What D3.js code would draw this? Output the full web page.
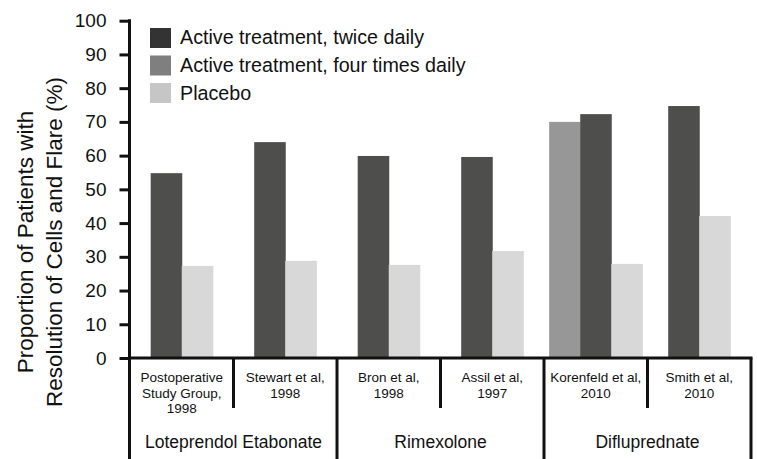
<!DOCTYPE html>
<html>
<head>
<meta charset="utf-8">
<script src="https://cdn.jsdelivr.net/npm/d3@7/dist/d3.min.js"></script>
<style>
  html, body { margin: 0; padding: 0; background: #fff; }
  svg { display: block; font-family: "Liberation Sans", Arial, Helvetica, sans-serif; }
</style>
</head>
<body>
<svg id="chart" width="757" height="459"></svg>
<script>
// ---- data ----
const categories = ["Postoperative Study Group, 1998", "Stewart et al, 1998", "Bron et al, 1998", "Assil et al, 1997", "Korenfeld et al, 2010", "Smith et al, 2010"];
const categoryLines = [["Postoperative", "Study Group,", "1998"], ["Stewart et al,", "1998"], ["Bron et al,", "1998"], ["Assil et al,", "1997"], ["Korenfeld et al,", "2010"], ["Smith et al,", "2010"]];
const groups = ["Loteprendol Etabonate", "Rimexolone", "Difluprednate"];
const categoryGroup = [0, 0, 1, 1, 2, 2];
const seriesNames = ["Active treatment, twice daily", "Active treatment, four times daily", "Placebo"];
const fourTimesDaily = [null, null, null, null, 70.0, null];
const twiceDaily = [54.8, 64.0, 59.9, 59.6, 72.3, 74.7];
const placebo = [27.3, 28.8, 27.6, 31.7, 27.9, 42.1];
const yTicks = [0, 10, 20, 30, 40, 50, 60, 70, 80, 90, 100];
const yTitleLines = ["Proportion of Patients with", "Resolution of Cells and Flare (%)"];

// ---- styles ----
const barColors = { four: "#979797", twice: "#4e4e4c", placebo: "#d8d8d8" };
const legendColors = ["#333333", "#7f7f7f", "#c6c6c6"];
const textColor = "#111";

const svg = d3.select("#chart");
const mLeft = 130, mRight = 751, mTop = 20.7, mBottom = 358;

const x = d3.scaleBand().domain(categories).range([mLeft, mRight]).paddingInner(0).paddingOuter(0);
const y = d3.scaleLinear().domain([0, 100]).range([mBottom, mTop]);
const barW = x.bandwidth() * 0.3;

// ---- bars ----
const barData = [];
categories.forEach((c, i) => {
  const present = [];
  if (fourTimesDaily[i] != null) present.push({ key: "four", v: fourTimesDaily[i] });
  if (twiceDaily[i] != null) present.push({ key: "twice", v: twiceDaily[i] });
  if (placebo[i] != null) present.push({ key: "placebo", v: placebo[i] });
  const center = x(c) + x.bandwidth() / 2;
  const start = center - present.length * barW / 2;
  present.forEach((p, j) => barData.push({ c, key: p.key, v: p.v, x0: start + j * barW }));
});

svg.append("g").selectAll("rect").data(barData).join("rect")
  .attr("x", d => d.x0)
  .attr("y", d => y(d.v))
  .attr("width", barW + 0.5)
  .attr("height", d => y(0) - y(d.v))
  .attr("fill", d => barColors[d.key]);

// ---- y axis ----
const yAxis = d3.axisLeft(y).tickValues(yTicks).tickSize(10).tickPadding(13).tickFormat(d3.format("d"));
const gy = svg.append("g").attr("transform", `translate(${mLeft - 0.5},0)`).call(yAxis);
gy.select(".domain").remove();
gy.selectAll(".tick line").attr("stroke", "#111").attr("stroke-width", 3);
gy.selectAll(".tick text").attr("fill", textColor).style("font-size", "19px").style("font-family", "Liberation Sans, Arial, sans-serif");

// axis lines
svg.append("line").attr("x1", mLeft - 0.5).attr("x2", mLeft - 0.5).attr("y1", y(100) - 1.5).attr("y2", 459)
  .attr("stroke", "#111").attr("stroke-width", 3);
svg.append("line").attr("x1", mLeft - 2).attr("x2", mRight + 1.5).attr("y1", y(0)).attr("y2", y(0))
  .attr("stroke", "#111").attr("stroke-width", 3);
svg.append("line").attr("x1", mRight).attr("x2", mRight).attr("y1", y(0)).attr("y2", 459)
  .attr("stroke", "#111").attr("stroke-width", 3);

// category dividers
categories.forEach((c, i) => {
  if (i === 0) return;
  const xx = x(c);
  const isGroup = categoryGroup[i] !== categoryGroup[i - 1];
  svg.append("line").attr("x1", xx).attr("x2", xx).attr("y1", y(0)).attr("y2", isGroup ? 459 : 408)
    .attr("stroke", "#111").attr("stroke-width", 3);
});

// category labels
categories.forEach((c, i) => {
  const t = svg.append("text").attr("x", x(c) + x.bandwidth() / 2).attr("y", 382)
    .attr("text-anchor", "middle").attr("fill", textColor).style("font-size", "13.5px");
  categoryLines[i].forEach((ln, k) => {
    t.append("tspan").attr("x", x(c) + x.bandwidth() / 2).attr("y", 382 + k * 15.5).text(ln);
  });
});

// group labels
groups.forEach((g, gi) => {
  const idx = categoryGroup.map((v, i) => v === gi ? i : -1).filter(i => i >= 0);
  const x0 = x(categories[idx[0]]);
  const x1 = x(categories[idx[idx.length - 1]]) + x.bandwidth();
  svg.append("text").attr("x", (x0 + x1) / 2).attr("y", 448).attr("text-anchor", "middle")
    .attr("fill", textColor).style("font-size", "17.5px").text(g);
});

// y title
const yt = svg.append("text").attr("transform", "translate(0,242) rotate(-90)")
  .attr("text-anchor", "middle").attr("fill", textColor).style("font-size", "22.5px");
yTitleLines.forEach((ln, k) => {
  yt.append("tspan").attr("x", 0).attr("y", 33 + k * 29).text(ln);
});

// legend
const lg = svg.append("g");
seriesNames.forEach((s, i) => {
  lg.append("rect").attr("x", 150).attr("y", 28 + i * 27.5).attr("width", 21).attr("height", 20).attr("fill", legendColors[i]);
  lg.append("text").attr("x", 180).attr("y", 44 + i * 28).attr("fill", textColor).style("font-size", "19.7px").text(s);
});
</script>
</body>
</html>
